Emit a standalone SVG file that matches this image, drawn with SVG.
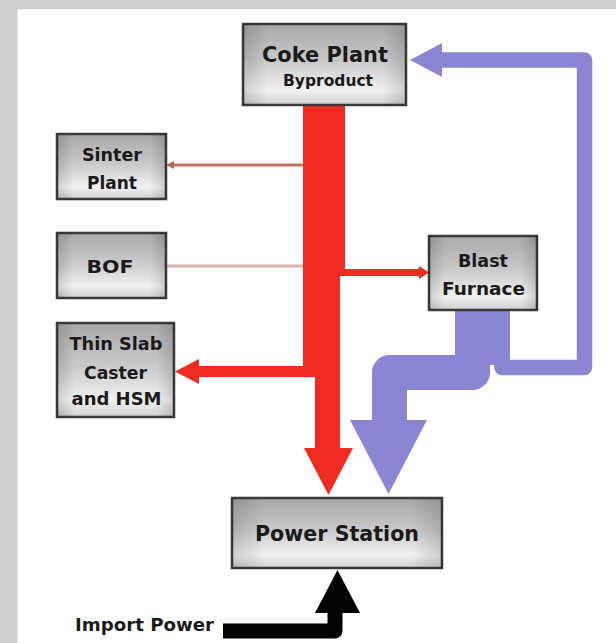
<svg xmlns="http://www.w3.org/2000/svg" width="616" height="643" viewBox="0 0 616 643">
<defs>
<linearGradient id="metal" x1="0" y1="0" x2="0" y2="1">
<stop offset="0" stop-color="#a8a8a8"/>
<stop offset="0.45" stop-color="#c9c9c9"/>
<stop offset="0.82" stop-color="#f1f1f1"/>
<stop offset="1" stop-color="#cfcfcf"/>
</linearGradient>
<linearGradient id="edge" x1="0" y1="0" x2="1" y2="0">
<stop offset="0" stop-color="#000" stop-opacity="0.14"/>
<stop offset="0.15" stop-color="#000" stop-opacity="0"/>
<stop offset="0.85" stop-color="#000" stop-opacity="0"/>
<stop offset="1" stop-color="#000" stop-opacity="0.14"/>
</linearGradient>
<style>
.box{fill:url(#metal);stroke:#3a3a3a;stroke-width:2.5}
.shade{fill:url(#edge);stroke:none}
.t{font-family:"DejaVu Sans","Liberation Sans",sans-serif;font-weight:bold;fill:#1a1a1a;text-anchor:middle}
.red{fill:#ef2b22}
.pur{fill:none;stroke:#8a86d2;stroke-linejoin:round}
</style>
</defs>
<rect x="0" y="0" width="616" height="643" fill="#cecece"/>
<rect x="17.5" y="9" width="598.5" height="634" fill="#ffffff"/>

<g id="connectors">
<!-- thin lines -->
<line x1="303" y1="165" x2="172" y2="165" stroke="#c27566" stroke-width="3"/>
<polygon points="166,165 174,161 174,169" fill="#b5665a"/>
<line x1="303" y1="266" x2="167" y2="266" stroke="#d7b3ac" stroke-width="3"/>
<!-- red trunk -->
<path class="red" d="M303 105 H345 V269 H422 V276 H340 V448 H353 L328.5 495 L304 448 H315 V377 H199 V366 H303 Z"/>
<polygon class="red" points="175,371.5 199,359 199,384"/>
<polygon class="red" points="429,272.5 419,266 419,279"/>
<!-- purple -->
<rect x="455" y="309" width="55" height="56" fill="#8a86d2"/>
<path class="pur" stroke-width="35" d="M472.5 340 V372.5 H389.5 V422"/>
<polygon points="350,420 427,420 388.5,494" fill="#8a86d2"/>
<path class="pur" stroke-width="15.5" d="M502 330 V367.5 H584.5 V60 H440"/>
<polygon points="410,60 442,43 442,77" fill="#8a86d2"/>
<!-- import power arrow -->
<path d="M223 631 H335 V611" fill="none" stroke="#000" stroke-width="15" stroke-linejoin="round"/>
<polygon points="315,613 360,613 337.5,570" fill="#000"/>
</g>

<g id="coke-plant">
<rect class="box" x="243" y="24" width="163" height="81"/>
<rect class="shade" x="243" y="24" width="163" height="81"/>
<text class="t" x="325" y="61.5" font-size="22" textLength="126" lengthAdjust="spacingAndGlyphs">Coke Plant</text>
<text class="t" x="328" y="86" font-size="16" textLength="90" lengthAdjust="spacingAndGlyphs">Byproduct</text>
</g>

<g id="sinter-plant">
<rect class="box" x="57" y="134" width="109" height="65"/>
<rect class="shade" x="57" y="134" width="109" height="65"/>
<text class="t" x="112" y="160.5" font-size="18.5" textLength="60" lengthAdjust="spacingAndGlyphs">Sinter</text>
<text class="t" x="112" y="188.5" font-size="18.5" textLength="50" lengthAdjust="spacingAndGlyphs">Plant</text>
</g>

<g id="bof">
<rect class="box" x="57" y="233" width="109" height="65"/>
<rect class="shade" x="57" y="233" width="109" height="65"/>
<text class="t" x="110" y="272.5" font-size="18.5" textLength="47" lengthAdjust="spacingAndGlyphs">BOF</text>
</g>

<g id="thin-slab">
<rect class="box" x="57" y="323" width="117" height="94"/>
<rect class="shade" x="57" y="323" width="117" height="94"/>
<text class="t" x="116" y="350" font-size="18.5" textLength="93" lengthAdjust="spacingAndGlyphs">Thin Slab</text>
<text class="t" x="115.5" y="378.5" font-size="18.5" textLength="63" lengthAdjust="spacingAndGlyphs">Caster</text>
<text class="t" x="116.5" y="405" font-size="18.5" textLength="90" lengthAdjust="spacingAndGlyphs">and HSM</text>
</g>

<g id="blast-furnace">
<rect class="box" x="429" y="236" width="108" height="74"/>
<rect class="shade" x="429" y="236" width="108" height="74"/>
<text class="t" x="483" y="266.5" font-size="18.5" textLength="50" lengthAdjust="spacingAndGlyphs">Blast</text>
<text class="t" x="483.5" y="295" font-size="18.5" textLength="83" lengthAdjust="spacingAndGlyphs">Furnace</text>
</g>

<g id="power-station">
<rect class="box" x="232" y="498" width="210" height="70"/>
<rect class="shade" x="232" y="498" width="210" height="70"/>
<text class="t" x="337" y="541" font-size="21.5" textLength="164" lengthAdjust="spacingAndGlyphs">Power Station</text>
</g>

<g id="import-power">
<text class="t" x="75" y="631" font-size="18.5" style="text-anchor:start" textLength="139" lengthAdjust="spacingAndGlyphs">Import Power</text>
</g>
</svg>
